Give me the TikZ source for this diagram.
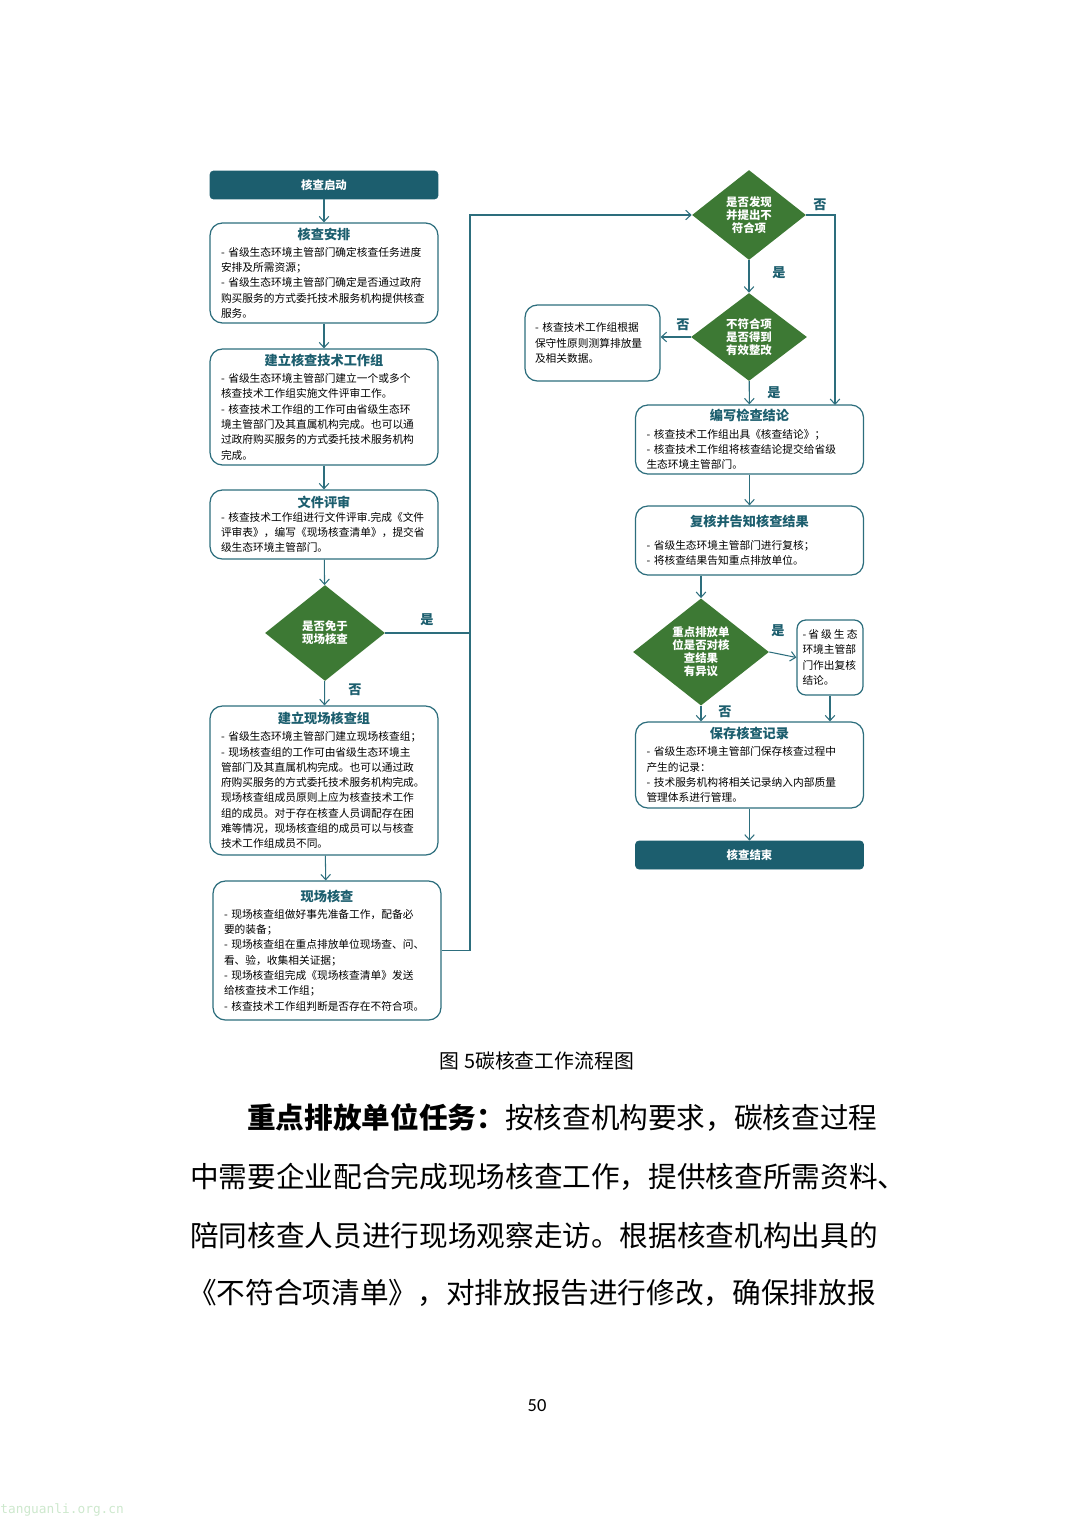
\documentclass[tikz,border=0pt]{standalone}
\usepackage{fontspec}
\setmainfont{Noto Sans CJK SC}
\newfontfamily\pagefont{Carlito}
\newfontfamily\markfont{DejaVu Sans Mono}
\usetikzlibrary{positioning,calc}
\usetikzlibrary{arrows.meta,shapes.geometric}
\definecolor{HcTeal}{RGB}{28,94,110}
\definecolor{HcLine}{RGB}{45,110,125}
\definecolor{HcGreen}{RGB}{61,121,52}
\definecolor{HcMark}{RGB}{205,232,205}
\tikzset{
  term/.style={rectangle,rounded corners=2pt,fill=HcTeal,draw=HcTeal,text=white,
    font=\fontsize{6.5}{7}\selectfont\bfseries,minimum width=4.56cm,minimum height=0.56cm},
  card/.style={rectangle,rounded corners=7pt,draw=HcLine,line width=0.7pt,fill=white,
    align=left,inner sep=0pt,text width=4.12cm,minimum width=4.56cm,font=\fontsize{6.1}{8.7}\selectfont},
  dec/.style={diamond,fill=HcGreen,text=white,inner sep=0pt,align=center,
    font=\fontsize{6.5}{7.4}\selectfont\bfseries},
  flow/.style={draw=HcLine,line width=0.6pt,-{Straight Barb[length=3pt,width=5.5pt]}},
  rail/.style={draw=HcLine,line width=0.6pt},
  yn/.style={text=HcTeal,font=\fontsize{7.5}{8}\selectfont\bfseries},
}
\tikzset{body/.style={anchor=west,inner sep=0pt,font=\fontsize{16.3}{18}\selectfont}}
\newcommand{\cardtitle}[1]{\makebox[\linewidth]{\fontsize{7.5}{8}\selectfont\bfseries\color{HcTeal}#1}}

\begin{document}
\begin{tikzpicture}[x=0.02cm,y=-0.02cm]
\useasboundingbox (0,0) rectangle (1074,1517);
\node[term] (qd) at (324,185) {核查启动};
\node[card,minimum height=2cm] (ap) at (324,273) {\cardtitle{核查安排}\\[1pt]
- 省级生态环境主管部门确定核查任务进度\\安排及所需资源；\\
- 省级生态环境主管部门确定是否通过政府\\购买服务的方式委托技术服务机构提供核查\\服务。};
\node[card,minimum height=2.32cm] (js) at (324,407) {\cardtitle{建立核查技术工作组}\\[1pt]
- 省级生态环境主管部门建立一个或多个\\核查技术工作组实施文件评审工作。\\
- 核查技术工作组的工作可由省级生态环\\境主管部门及其直属机构完成。也可以通\\过政府购买服务的方式委托技术服务机构\\完成。};
\node[card,minimum height=1.38cm] (ps) at (324,524.5) {\cardtitle{文件评审}\\[-1pt]
- 核查技术工作组进行文件评审.完成《文件\\评审表》，编写《现场核查清单》，提交省\\级生态环境主管部门。};
\node[dec,minimum width=2.4cm,minimum height=1.92cm] (my) at (325,633) {是否免于\\现场核查};
\node[card,minimum height=2.98cm] (zz) at (324,780.5) {\cardtitle{建立现场核查组}\\[1pt]
- 省级生态环境主管部门建立现场核查组；\\
- 现场核查组的工作可由省级生态环境主\\管部门及其直属机构完成。也可以通过政\\府购买服务的方式委托技术服务机构完成。\\
现场核查组成员原则上应为核查技术工作\\组的成员。对于存在核查人员调配存在困\\难等情况，现场核查组的成员可以与核查\\技术工作组成员不同。};
\node[card,minimum height=2.78cm] (xc) at (327,950.5) {\cardtitle{现场核查}\\[1pt]
- 现场核查组做好事先准备工作，配备必\\要的装备；\\
- 现场核查组在重点排放单位现场查、问、\\看、验，收集相关证据；\\
- 现场核查组完成《现场核查清单》发送\\给核查技术工作组；\\
- 核查技术工作组判断是否存在不符合项。};
\node[dec,minimum width=2.28cm,minimum height=1.8cm] (fx) at (749,215) {是否发现\\并提出不\\符合项};
\node[dec,minimum width=2.32cm,minimum height=1.76cm] (bh) at (749,337) {不符合项\\是否得到\\有效整改};
\node[card,text width=2.3cm,minimum width=2.7cm,minimum height=1.52cm] (cs) at (592.5,343) {- 核查技术工作组根据\\保守性原则测算排放量\\及相关数据。};
\node[card,minimum height=1.38cm] (bx) at (749.5,439.5) {\cardtitle{编写检查结论}\\[1pt]
- 核查技术工作组出具《核查结论》；\\
- 核查技术工作组将核查结论提交给省级\\生态环境主管部门。};
\node[card,minimum height=1.38cm] (fh) at (749.5,540.5) {\cardtitle{复核并告知核查结果}\\[4pt]
- 省级生态环境主管部门进行复核；\\- 将核查结果告知重点排放单位。};
\node[dec,minimum width=2.72cm,minimum height=1.76cm] (yy) at (701,652) {重点排放单\\位是否对核\\查结果\\有异议};
\node[card,rounded corners=5pt,text width=1.1cm,minimum width=1.32cm,minimum height=1.5cm] (fj) at (830,657.5) {-\hfill 省\hfill 级\hfill 生\hfill 态\\环境主管部\\门作出复核\\结论。};
\node[card,minimum height=1.72cm] (bc) at (749.5,765) {\cardtitle{保存核查记录}\\[1pt]
- 省级生态环境主管部门保存核查过程中\\产生的记录：\\
- 技术服务机构将相关记录纳入内部质量\\管理体系进行管理。};
\node[term] (jx) at (749.5,855) {核查结束};
\coordinate (rj) at (470,633);
\coordinate (rt) at (470,215);
\coordinate (fd) at (835,405);
\draw[flow] (qd) -- (ap);
\draw[flow] (ap) -- (js);
\draw[flow] (js) -- (ps);
\draw[flow] (ps) -- (my);
\draw[flow] (my) -- (zz);
\draw[flow] (zz) -- (xc);
\draw[rail] (my.east) -- (rj);
\draw[flow] (xc.east) -| (rt) -- (fx.west);
\draw[flow] (fx.east) -| (fd);
\draw[flow] (fx) -- (bh);
\draw[flow] (bh.west) -- (bh.west -| cs.east);
\draw[flow] (bh) -- (bx);
\draw[flow] (bx) -- (fh);
\draw[flow] (fh.south -| yy.north) -- (yy.north);
\draw[flow] (yy.east) -- (fj.west);
\draw[flow] (yy.south) -- (yy.south |- bc.north);
\draw[flow] (fj.south) -- (fj.south |- bc.north);
\draw[flow] (bc) -- (jx);
\node[yn] (y1) at (427,620) {是};
\node[yn] (n1) at (355,690) {否};
\node[yn] (n2) at (820,205) {否};
\node[yn] (y2) at (779,273) {是};
\node[yn] (n3) at (683,325) {否};
\node[yn] (y3) at (774,393) {是};
\node[yn] (y4) at (778,631) {是};
\node[yn] (n4) at (725,712) {否};
\node[font=\fontsize{11.3}{12}\selectfont] (cap) at (537,1061) {图 5碳核查工作流程图};
\node[body] (p1) at (247,1118) {{\bfseries 重点排放单位任务：}按核查机构要求，碳核查过程};
\node[body] (p2) at (190,1177) {中需要企业配合完成现场核查工作，提供核查所需资料、};
\node[body] (p3) at (190,1236) {陪同核查人员进行现场观察走访。根据核查机构出具的};
\node[body] (p4) at (188,1293) {《不符合项清单》，对排放报告进行修改，确保排放报};
\node[font=\pagefont\fontsize{10.5}{12}\selectfont] (pg) at (537,1406) {50};
\node[anchor=west,inner sep=0pt,text=HcMark,font=\markfont\fontsize{7.3}{8}\selectfont] (wm) at (0,1510) {tanguanli.org.cn};
\end{tikzpicture}
\end{document}
